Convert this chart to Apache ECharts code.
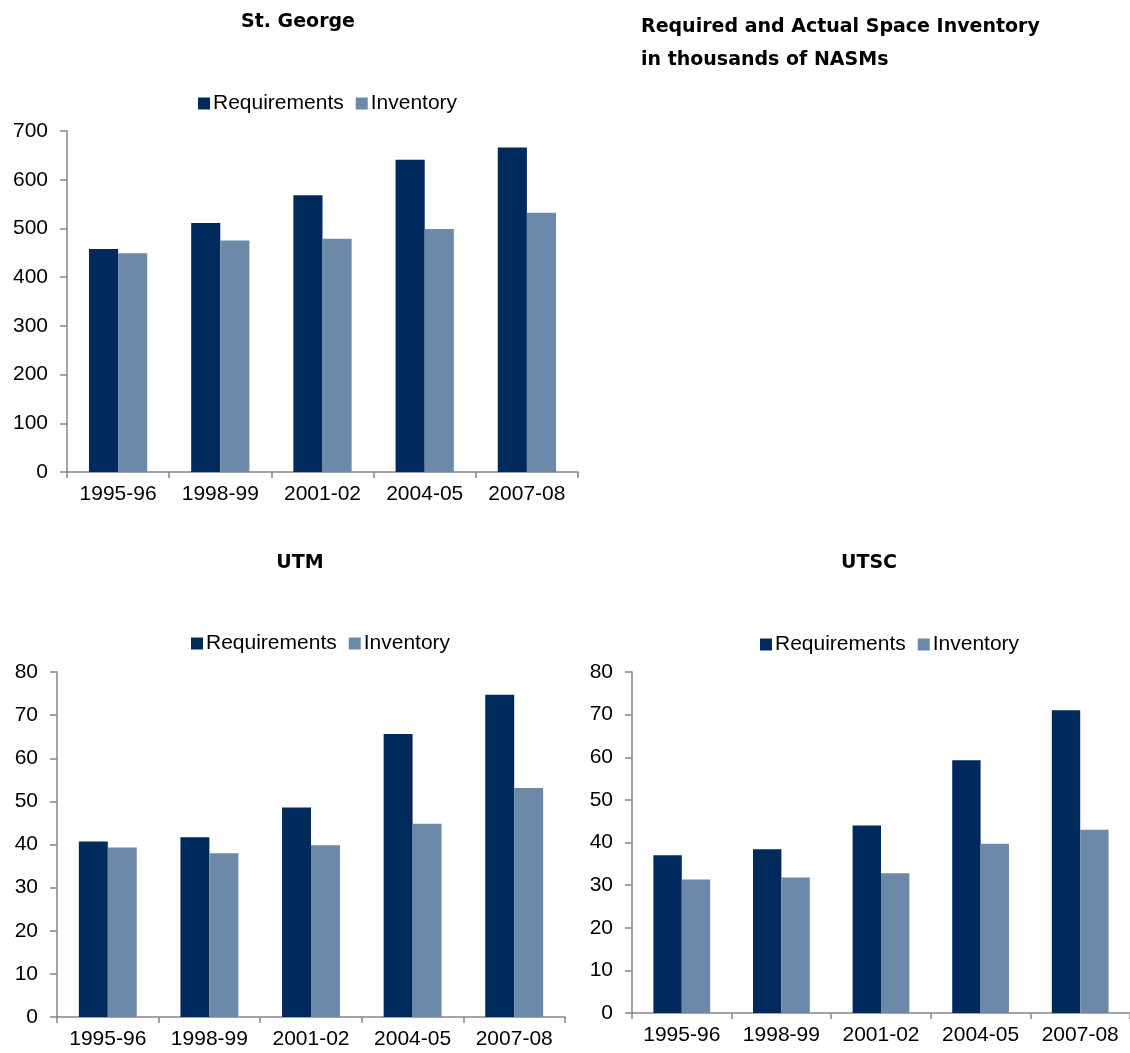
<!DOCTYPE html>
<html>
<head>
<meta charset="utf-8">
<script src="https://cdn.jsdelivr.net/npm/echarts@6/dist/echarts.min.js"></script>
<style>
  html, body { margin: 0; padding: 0; background: #fff; }
  #main { width: 1130px; height: 1053px; }
</style>
</head>
<body>
<div id="main"></div>
<script>
// years on the x axis
const years = ['1995-96', '1998-99', '2001-02', '2004-05', '2007-08']
// St. George (thousands of NASMs)
const stgReq = [458, 511, 568, 641, 666]
const stgInv = [449, 475, 479, 499, 532]
// UTM
const utmReq = [40.7, 41.7, 48.6, 65.6, 74.7]
const utmInv = [39.3, 38.0, 39.8, 44.8, 53.1]
// UTSC
const utscReq = [37.0, 38.4, 44.0, 59.3, 71.0]
const utscInv = [31.3, 31.8, 32.8, 39.7, 43.0]

const reqColor = '#002a5c'
const invColor = '#6d89aa'
const axisGray = '#868686'
const font = '"Liberation Sans", Arial, sans-serif'
const titleFont = '"DejaVu Sans", sans-serif'

const chart = echarts.init(document.getElementById('main'))

// 每个小图的坐标轴配置
function xAxisFor (gridIndex) {
  return {
    type: 'category',
    gridIndex: gridIndex,
    data: years,
    axisLine: { lineStyle: { color: axisGray, width: 1.5 } },
    axisTick: { show: true, length: 6, lineStyle: { color: axisGray, width: 1.5 } },
    axisLabel: { color: '#000', fontSize: 21, fontFamily: font, margin: 12, interval: 0, hideOverlap: false }
  }
}
function yAxisFor (gridIndex, max, interval) {
  return {
    type: 'value',
    gridIndex: gridIndex,
    min: 0,
    max: max,
    interval: interval,
    splitLine: { show: false },
    axisLine: { show: true, lineStyle: { color: axisGray, width: 1.5 } },
    axisTick: { show: true, length: 7, lineStyle: { color: axisGray, width: 1.5 } },
    axisLabel: { color: '#000', fontSize: 21, fontFamily: font, margin: 19 }
  }
}
function barSeries (name, data, color, idx) {
  return {
    name: name,
    type: 'bar',
    xAxisIndex: idx,
    yAxisIndex: idx,
    data: data,
    barGap: '0%',
    barCategoryGap: '43%',
    itemStyle: { color: color },
    emphasis: { disabled: true }
  }
}
function legendAt (left, top) {
  return {
    left: left,
    top: top,
    itemWidth: 12,
    itemHeight: 12,
    itemGap: 12,
    icon: 'rect',
    selectedMode: false,
    textStyle: { fontSize: 21, color: '#000', fontFamily: font, padding: [0, 0, 0, -2] },
    data: ['Requirements', 'Inventory']
  }
}
const titleStyle = { fontSize: 19, fontWeight: 'bold', color: '#000', fontFamily: titleFont }

const option = {
  animation: false,
  title: [
    { text: 'St. George', left: 293, top: 8, textAlign: 'center', textStyle: titleStyle },
    { text: 'UTM', left: 295, top: 549, textAlign: 'center', textStyle: titleStyle },
    { text: 'UTSC', left: 864, top: 549, textAlign: 'center', textStyle: titleStyle },
    {
      text: 'Required and Actual Space Inventory\nin thousands of NASMs',
      left: 641,
      top: 11,
      padding: 0,
      textStyle: { fontSize: 19, fontWeight: 'bold', color: '#000', fontFamily: titleFont, lineHeight: 33 }
    }
  ],
  legend: [legendAt(193, 88), legendAt(186, 628), legendAt(755, 629)],
  grid: [
    { left: 67, top: 131, width: 511, height: 341 },
    { left: 57, top: 672, width: 508, height: 345 },
    { left: 632, top: 672, width: 498, height: 341 }
  ],
  xAxis: [xAxisFor(0), xAxisFor(1), xAxisFor(2)],
  yAxis: [yAxisFor(0, 700, 100), yAxisFor(1, 80, 10), yAxisFor(2, 80, 10)],
  series: [
    barSeries('Requirements', stgReq, reqColor, 0),
    barSeries('Inventory', stgInv, invColor, 0),
    barSeries('Requirements', utmReq, reqColor, 1),
    barSeries('Inventory', utmInv, invColor, 1),
    barSeries('Requirements', utscReq, reqColor, 2),
    barSeries('Inventory', utscInv, invColor, 2)
  ]
}
chart.setOption(option)
</script>
</body>
</html>
